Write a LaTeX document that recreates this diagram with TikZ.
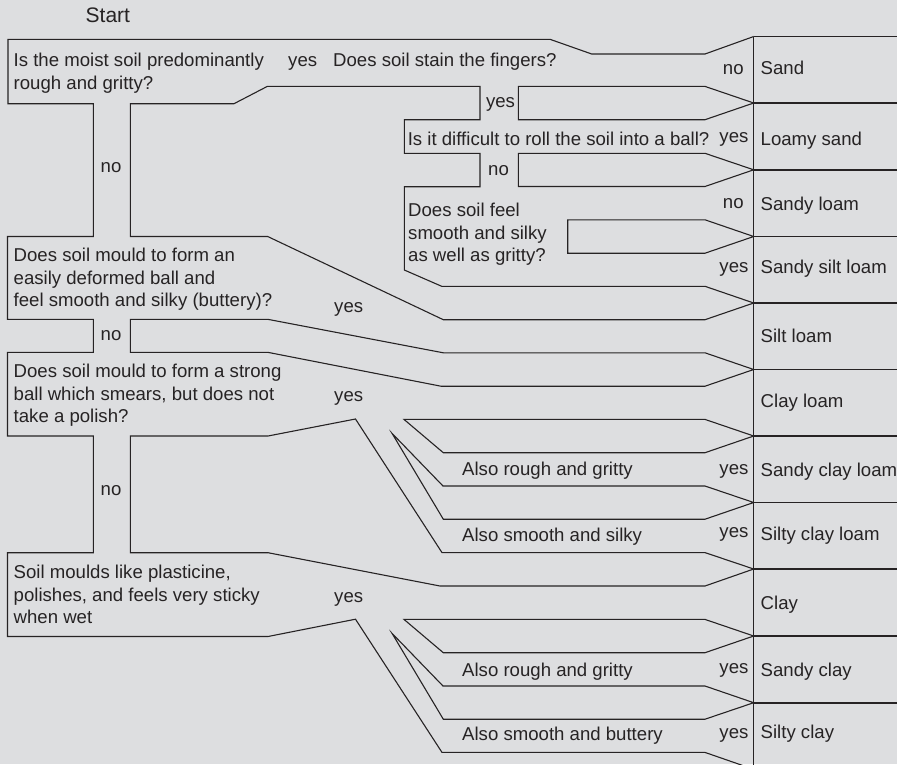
\documentclass[tikz,border=0pt]{standalone}
\usepackage{fontspec}
\setmainfont{Liberation Sans}
\definecolor{bg}{RGB}{221,222,224}
\definecolor{ink}{RGB}{38,35,36}
\begin{document}
\begin{tikzpicture}[x=1pt,y=-1pt,
  ln/.style={draw=ink,line width=1.1pt,line join=miter},
  dv/.style={draw=ink,line width=1.7pt},
  vl/.style={draw=ink,line width=1.5pt},
  lbl/.style={anchor=base west,inner sep=0pt,text=ink,font=\fontsize{18.6}{22.4}\selectfont},
  rl/.style={anchor=base east,inner sep=0pt,text=ink,font=\fontsize{18.6}{22.4}\selectfont}]
\fill[bg] (0,0) rectangle (897,764);
\useasboundingbox (0,0) rectangle (897,764);
\foreach \k/\y in {0/36.5,1/103,2/169.8,3/236.5,4/303,5/369.5,6/436,7/502.5,8/569,9/636,10/702.7,11/769.3}
  \coordinate (d\k) at (753.7,\y);
% right column
\foreach \k in {0,...,10} \draw[dv] (d\k) -- ++(160,0);
\draw[vl] (d0) -- (753.7,780);
% outer left boundary
\draw[ln] (d0) -- (705,54) -- (591.7,54) -- (550,39.3) -- (8,39.3) -- (8,103.7) -- (93.3,103.7)
  -- (93.3,236.5) -- (7.5,236.5) -- (7.5,319.3) -- (93.3,319.3) -- (93.3,352.3) -- (7.5,352.3)
  -- (7.5,436) -- (93.3,436) -- (93.3,552.7) -- (7.5,552.7) -- (7.5,636.5) -- (268,636.5)
  -- (355.5,619.2) -- (442,752.4) -- (705,752.4) -- (d11);
% Q1 inner block
\draw[ln] (d4) -- (705,286.3) -- (441.7,286.3) -- (404.3,270) -- (404.3,186.7) -- (480,186.7)
  -- (480,153.3) -- (404.3,153.3) -- (404.3,119.7) -- (480,119.7) -- (480,86.4) -- (267.3,86.4)
  -- (234,103.7) -- (130.3,103.7) -- (130.3,236.5) -- (267.7,236.5) -- (443.3,319.7) -- (705,319.7) -- cycle;
% tabs in sand section
\draw[ln] (518.3,86.4) -- (705,86.4) -- (d1) -- (705,119.7) -- (518.3,119.7) -- cycle;
\draw[ln] (518.3,153.3) -- (705,153.3) -- (d2) -- (705,186.5) -- (518.3,186.5) -- cycle;
\draw[ln] (567.7,219.8) -- (705,219.8) -- (d3) -- (705,253.2) -- (567.7,253.2) -- cycle;
% Q2 block
\draw[ln] (d5) -- (705,352.8) -- (443.3,352.8) -- (267.7,319.3) -- (130.3,319.3) -- (130.3,352.3)
  -- (267.7,352.3) -- (441,386.2) -- (705,386.2) -- cycle;
% Q3 block
\draw[ln] (d8) -- (705,552.6) -- (442,552.6) -- (355.5,419) -- (268,436) -- (130.3,436)
  -- (130.3,552.7) -- (268,552.7) -- (440,586) -- (705,586) -- cycle;
% Q3 fan
\draw[ln] (404,419.4) -- (705,419.4) -- (d6) -- (705,452.7) -- (443.3,452.7) -- cycle;
\draw[ln] (392,433.3) -- (443,486) -- (705,486) -- (d7) -- (705,519.2) -- (443.3,519.2) -- cycle;
% Q4 fan
\draw[ln] (404,619.4) -- (705,619.4) -- (d9) -- (705,652.7) -- (443.3,652.7) -- cycle;
\draw[ln] (392,633.3) -- (443,686) -- (705,686) -- (d10) -- (705,719.2) -- (443.3,719.2) -- cycle;
% texts
\node[lbl,font=\fontsize{21}{24}\selectfont] (start) at (85.5,22.7) {Start};
\node[lbl] (q1a) at (13.5,66.7) {Is the moist soil predominantly};
\node[lbl] (q1b) at (13.5,89.3) {rough and gritty?};
\node[lbl] (y1) at (288,66.7) {yes};
\node[lbl] (q5) at (333,66.7) {Does soil stain the fingers?};
\node[lbl] (n1) at (100.5,172.3) {no};
\node[lbl] (y5) at (485.8,107.3) {yes};
\node[lbl] (q6) at (407.6,145.7) {Is it difficult to roll the soil into a ball?};
\node[lbl] (n6) at (488,175) {no};
\node[lbl] (q7a) at (408,216.7) {Does soil feel};
\node[lbl] (q7b) at (408,239) {smooth and silky};
\node[lbl] (q7c) at (408,261.5) {as well as gritty?};
\node[lbl] (q2a) at (13.5,261.7) {Does soil mould to form an};
\node[lbl] (q2b) at (13.5,284.3) {easily deformed ball and};
\node[lbl] (q2c) at (13.5,306.7) {feel smooth and silky (buttery)?};
\node[lbl] (y2) at (334,312.3) {yes};
\node[lbl] (n2) at (100.5,340) {no};
\node[lbl] (q3a) at (13.5,377.3) {Does soil mould to form a strong};
\node[lbl] (q3b) at (13.5,400) {ball which smears, but does not};
\node[lbl] (q3c) at (13.5,422.3) {take a polish?};
\node[lbl] (y3) at (334,401.7) {yes};
\node[lbl] (n3) at (100.5,495) {no};
\node[lbl] (q4a) at (13.5,578.3) {Soil moulds like plasticine,};
\node[lbl] (q4b) at (13.5,601) {polishes, and feels very sticky};
\node[lbl] (q4c) at (13.5,623.3) {when wet};
\node[lbl] (y4) at (334,602.3) {yes};
\node[lbl] (a1) at (462,475.2) {Also rough and gritty};
\node[lbl] (a2) at (462,541.5) {Also smooth and silky};
\node[lbl] (a3) at (462,676.5) {Also rough and gritty};
\node[lbl] (a4) at (462,740.5) {Also smooth and buttery};
% right yes/no
\node[rl] (rn0) at (743.8,74) {no};
\node[rl] (ry1) at (748.6,142.7) {yes};
\node[rl] (rn2) at (743.8,208.3) {no};
\node[rl] (ry3) at (748.6,272.7) {yes};
\node[rl] (ry6) at (748.6,474.3) {yes};
\node[rl] (ry7) at (748.6,537.3) {yes};
\node[rl] (ry9) at (748.6,673.3) {yes};
\node[rl] (ry10) at (748.6,738.3) {yes};
% classes
\node[lbl] (c0) at (760.5,74.5) {Sand};
\node[lbl] (c1) at (760.5,145) {Loamy sand};
\node[lbl] (c2) at (760.5,210) {Sandy loam};
\node[lbl] (c3) at (760.5,273.5) {Sandy silt loam};
\node[lbl] (c4) at (760.5,342.8) {Silt loam};
\node[lbl] (c5) at (760.5,407.8) {Clay loam};
\node[lbl] (c6) at (760.5,476.8) {Sandy clay loam};
\node[lbl] (c7) at (760.5,540.2) {Silty clay loam};
\node[lbl] (c8) at (760.5,609.5) {Clay};
\node[lbl] (c9) at (760.5,676.2) {Sandy clay};
\node[lbl] (c10) at (760.5,738.7) {Silty clay};
\end{tikzpicture}
\end{document}
